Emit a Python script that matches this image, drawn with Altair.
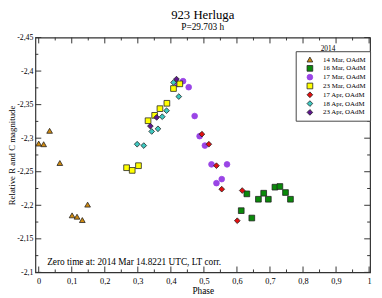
import altair as alt
import pandas as pd

FONT = "Liberation Serif"

series_names = ["14 Mar, OAdM", "16 Mar, OAdM", "17 Mar, OAdM", "23 Mar, OAdM",
                "17 Apr, OAdM", "18 Apr, OAdM", "23 Apr, OAdM"]
series_colors = ["#d08a10", "#0a8a0a", "#9a45e6", "#ffff00", "#e31010", "#3ec8c0", "#5e168e"]
series_shapes = ["triangle-up", "square", "circle", "square", "diamond", "diamond", "diamond"]
series_strokes = ["#222222", "#222222", "#9a45e6", "#222222", "#222222", "#222222", "#222222"]
series_sizes = [34, 34, 18, 38, 34, 34, 34]

mar14_x = [0.0, 0.015, 0.033, 0.064, 0.101, 0.116, 0.132, 0.148]
mar14_y = [-2.292, -2.291, -2.311, -2.263, -2.185, -2.183, -2.178, -2.201]

mar16_x = [0.613, 0.630, 0.645, 0.665, 0.681, 0.695, 0.715, 0.730, 0.747, 0.762]
mar16_y = [-2.192, -2.217, -2.181, -2.209, -2.218, -2.209, -2.227, -2.228, -2.219, -2.209]

mar17_x = [0.421, 0.437, 0.454, 0.472, 0.487, 0.503, 0.523, 0.538, 0.554, 0.570]
mar17_y = [-2.381, -2.385, -2.376, -2.333, -2.303, -2.289, -2.261, -2.233, -2.239, -2.261]

mar23_x = [0.266, 0.283, 0.302, 0.331, 0.351, 0.367, 0.388, 0.408, 0.427]
mar23_y = [-2.256, -2.252, -2.259, -2.326, -2.334, -2.344, -2.352, -2.374, -2.381]

apr17_x = [0.494, 0.515, 0.538, 0.554, 0.601, 0.616]
apr17_y = [-2.306, -2.291, -2.259, -2.224, -2.177, -2.222]

apr18_x = [0.298, 0.318, 0.342, 0.361, 0.374, 0.387, 0.408, 0.424]
apr18_y = [-2.291, -2.289, -2.310, -2.314, -2.332, -2.341, -2.383, -2.362]

apr23_x = [0.338, 0.357, 0.417]
apr23_y = [-2.318, -2.331, -2.388]

x_major = [0.0, 0.1, 0.2, 0.3, 0.4, 0.5, 0.6, 0.7, 0.8, 0.9, 1.0]
x_minor = [0.05, 0.15, 0.25, 0.35, 0.45, 0.55, 0.65, 0.75, 0.85, 0.95]
y_major = [-2.45, -2.4, -2.35, -2.3, -2.25, -2.2, -2.15, -2.1]
y_minor = [-2.425, -2.375, -2.325, -2.275, -2.225, -2.175, -2.125]

title_text = "923 Herluga"
subtitle_text = "P=29.703 h"
note_text = "Zero time at: 2014 Mar 14.8221 UTC, LT corr."
legend_title = "2014"

all_x = [mar14_x, mar16_x, mar17_x, mar23_x, apr17_x, apr18_x, apr23_x]
all_y = [mar14_y, mar16_y, mar17_y, mar23_y, apr17_y, apr18_y, apr23_y]
rows = []
for name, xs, ys in zip(series_names, all_x, all_y):
    for a, b in zip(xs, ys):
        rows.append({"phase": a, "mag": b, "series": name})
df = pd.DataFrame(rows)

W, H = 342, 240
xs_scale = alt.Scale(domain=[-0.01, 1.003], nice=False, zero=False)
ys_scale = alt.Scale(domain=[-2.45, -2.1], reverse=True, nice=False, zero=False)

x_axis = alt.Axis(values=x_major, labelExpr="replace(toString(round(datum.value*10)/10), '.', ',')",
                  ticks=False, domain=False, grid=False, title="Phase", labelPadding=4,
                  labelFontSize=8.5, titleFontSize=9.5, titlePadding=1, labelFlush=False)
y_axis = alt.Axis(values=y_major, labelExpr="replace(toString(round(datum.value*100)/100), '.', ',')",
                  ticks=False, domain=False, grid=False, title="Relative R and C magnitude",
                  labelPadding=2.5, labelFontSize=8, titleFontSize=9, titlePadding=0, labelFlush=False)

leg = alt.Legend(title=None, orient="none", legendX=266, legendY=14, strokeColor="#444444",
                 fillColor="white", padding=4, labelFont=FONT, labelFontSize=7, rowPadding=0,
                 clipHeight=9, labelOffset=10, symbolOffset=7, symbolStrokeWidth=0.8,
                 labelColor="black", symbolSize=36)

points = alt.Chart(df).mark_point(filled=True, opacity=1, strokeWidth=0.8).encode(
    x=alt.X("phase:Q", scale=xs_scale, axis=x_axis),
    y=alt.Y("mag:Q", scale=ys_scale, axis=y_axis),
    fill=alt.Fill("series:N", scale=alt.Scale(domain=series_names, range=series_colors), legend=leg),
    shape=alt.Shape("series:N", scale=alt.Scale(domain=series_names, range=series_shapes), legend=leg),
    stroke=alt.Stroke("series:N", scale=alt.Scale(domain=series_names, range=series_strokes), legend=leg),
    size=alt.Size("series:N", scale=alt.Scale(domain=series_names, range=series_sizes), legend=leg),
)

TC = "#333333"
def xticks(vals, y0, y1):
    return alt.Chart(pd.DataFrame({"phase": vals})).mark_rule(color=TC, strokeWidth=1).encode(
        x=alt.X("phase:Q", scale=xs_scale, axis=x_axis), y=alt.value(y0), y2=alt.value(y1))

def yticks(vals, x0, x1):
    return alt.Chart(pd.DataFrame({"mag": vals})).mark_rule(color=TC, strokeWidth=1).encode(
        y=alt.Y("mag:Q", scale=ys_scale, axis=y_axis), x=alt.value(x0), x2=alt.value(x1))

tick_layers = [
    xticks(x_major, H, H - 6), xticks(x_minor, H, H - 3),
    xticks(x_major, 0, 6), xticks(x_minor, 0, 3),
    yticks(y_major, 0, 6), yticks(y_minor, 0, 3),
    yticks(y_major, W, W - 6), yticks(y_minor, W, W - 3),
]

note = alt.Chart(pd.DataFrame({"t": [note_text]})).mark_text(
    align="left", baseline="middle", font=FONT, fontSize=9.5, color="black").encode(
    x=alt.value(12), y=alt.value(229), text="t:N")

ltitle = alt.Chart(pd.DataFrame({"t": [legend_title]})).mark_text(
    align="center", baseline="middle", font=FONT, fontSize=7.5, color="black").encode(
    x=alt.value(299), y=alt.value(11.5), text="t:N")

chart = alt.layer(points, *tick_layers, note, ltitle).properties(
    width=W, height=H,
    title=alt.TitleParams(text=title_text, subtitle=subtitle_text, font=FONT, fontSize=13,
                          fontWeight="normal", subtitleFont=FONT, subtitleFontSize=9.5,
                          anchor="middle", offset=2, subtitlePadding=0, color="black",
                          subtitleColor="black"),
    padding={"left": 28, "top": 27, "right": 4, "bottom": 23},
    autosize=alt.AutoSizeParams(type="none"),
).configure_view(stroke="#333333", strokeWidth=1.2).configure_axis(
    labelFont=FONT, titleFont=FONT, labelColor="black", titleColor="black", titleFontWeight="normal")

chart.save("out.html", embed_options={"renderer": "svg", "actions": False})
